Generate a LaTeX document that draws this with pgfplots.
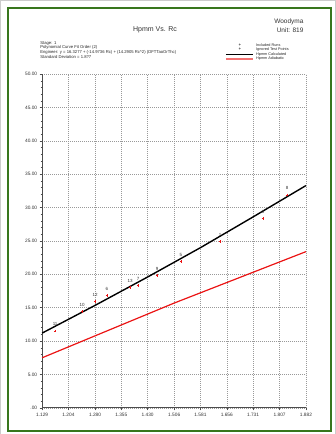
\documentclass[border=0pt]{standalone}
\usepackage{fontspec}
\setmainfont{Liberation Sans}
\usepackage{pgfplots}
\pgfplotsset{compat=1.18}
\definecolor{frameg}{RGB}{56,118,29}
\definecolor{ptred}{RGB}{235,20,20}
\begin{document}
\begin{tikzpicture}[x=1pt,y=1pt]
\path[draw=black!20] (0,0) rectangle (335,434);
\draw[frameg, line width=2.4pt] (8,3) rectangle (331,426);
\begin{axis}[
  at={(42pt,26pt)}, anchor=south west,
  scale only axis, width=264pt, height=334pt,
  xmin=1.129, xmax=1.882, ymin=0, ymax=50,
  axis lines=left, axis line style={black!70, line width=0.8pt, -},
  xtick={1.129,1.204,1.280,1.355,1.430,1.506,1.581,1.656,1.731,1.807,1.882},
  xticklabels={1.129,1.204,1.280,1.355,1.430,1.506,1.581,1.656,1.731,1.807,1.882},
  ytick={0,5,...,50},
  yticklabels={.00,5.00,10.00,15.00,20.00,25.00,30.00,35.00,40.00,45.00,50.00},
  minor x tick num=4, minor y tick num=4,
  tick align=outside, major tick length=2.5pt, minor tick length=1.5pt,
  tick style={black!70, line width=0.5pt},
  ticklabel style={font=\fontsize{4.8}{5}\selectfont, text=black!80},
  xticklabel style={yshift=1pt},
  yticklabel style={xshift=1pt},
  grid=major, major grid style={black!40, dash pattern=on 1pt off 1pt, line width=0.5pt},
  clip=false,
  nodes near coords style={font=\fontsize{4.5}{4.5}\selectfont, text=black!80, anchor=south, yshift=1.5pt},
]
\addplot[black, line width=1.4pt] coordinates {
 (1.129,11.2) (1.280,15.35) (1.430,19.6) (1.581,24.0) (1.731,28.6) (1.882,33.3)};
\addplot[ptred, line width=1.2pt] coordinates {
 (1.129,7.5) (1.506,15.7) (1.882,23.4)};
\addplot[only marks, mark=+, mark size=1.3pt, ptred, line width=0.6pt,
  nodes near coords, point meta=explicit symbolic] coordinates {
 (1.166,11.5) [11]
 (1.243,14.4) [10]
 (1.280,15.9) [12]
 (1.314,16.8) [6]
 (1.380,18.0) [13]
 (1.403,18.3) [7]
 (1.457,19.8) [9]
 (1.525,21.9) [5]
 (1.637,24.9) [1]
 (1.759,28.4) [3]
 (1.828,31.9) [8]
};
\end{axis}
% header texts
\node[font=\fontsize{7}{8}\selectfont, text=black!80] at (155,404) {Hpmm Vs. Rc};
\node[font=\fontsize{6.5}{7.5}\selectfont, text=black!80, anchor=east] at (307,412) {Woodyma};
\node[font=\fontsize{6.5}{7.5}\selectfont, text=black!80, anchor=east] at (307,404) {Unit: 819};
\begin{scope}[every node/.style={font=\fontsize{4.2}{4.5}\selectfont, text=black!85, anchor=west, inner sep=0pt}]
\node at (40,391) {Stage: 1};
\node at (40,386.5) {Polynomial Curve Fit Order (2)};
\node at (40,382) {Engineer: y = 16.3277 + (-14.9736 Rc) + (14.2905 Rc\textasciicircum 2) (DFTTaoOrThc)};
\node at (40,377.5) {Standard Deviation = 1.8?7};
\end{scope}
\begin{scope}[every node/.style={font=\fontsize{3.8}{4}\selectfont, text=black!85, anchor=west, inner sep=0pt}]
\node at (256,389) {Included Runs};
\node at (256,384.5) {Ignored Test Points};
\node at (256,380) {Hpmm Calculated};
\node at (256,375.5) {Hpmm Adiabatic};
\end{scope}
\node[font=\fontsize{4.5}{4.5}\selectfont, inner sep=0pt] at (240,389) {+};
\node[font=\fontsize{4.5}{4.5}\selectfont, inner sep=0pt] at (240,384.5) {+};
\draw[black, line width=0.9pt] (226,380) -- (253,380);
\draw[ptred!60, line width=1.8pt] (226,375.5) -- (253,375.5);
\end{tikzpicture}
\end{document}
